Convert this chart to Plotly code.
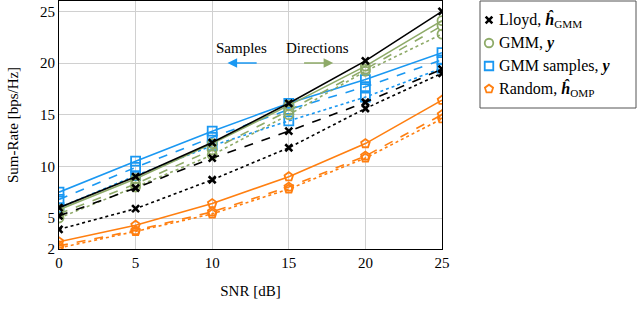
import plotly.graph_objects as go

snr = [0, 5, 10, 15, 20, 25]

lloyd_solid = [6.0, 9.0, 12.3, 16.1, 20.2, 25.0]
lloyd_dash = [5.2, 7.9, 10.8, 13.4, 16.2, 19.4]
lloyd_dot = [3.9, 5.9, 8.7, 11.8, 15.6, 19.0]

gmm_solid = [5.8, 8.8, 12.2, 15.9, 19.7, 24.1]
gmm_dash = [5.4, 8.3, 11.6, 15.4, 19.4, 23.6]
gmm_dot = [5.0, 8.0, 11.1, 15.0, 19.2, 22.8]

samp_solid = [7.5, 10.5, 13.4, 16.1, 18.4, 21.0]
samp_dash = [6.8, 9.9, 12.8, 15.5, 17.7, 20.3]
samp_dot = [6.0, 9.1, 12.0, 14.4, 16.7, 19.5]

rand_solid = [2.7, 4.3, 6.4, 9.0, 12.2, 16.4]
rand_dash = [2.3, 3.8, 5.6, 8.0, 11.0, 15.0]
rand_dot = [2.1, 3.7, 5.4, 7.8, 10.8, 14.6]

y_ticks = [2, 5, 10, 15, 20, 25]
x_ticks = [0, 5, 10, 15, 20, 25]

legend_names = [
    "Lloyd, <b><i>ĥ</i></b><sub>GMM</sub>",
    "GMM, <b><i>y</i></b>",
    "GMM samples, <b><i>y</i></b>",
    "Random, <b><i>ĥ</i></b><sub>OMP</sub>",
]

BLACK = "#000000"
GREEN = "#8EAA68"
BLUE = "#1A98F2"
ORANGE = "#FF7F10"
FONT = "Liberation Serif"

W, H = 640, 314
L, R, T, B = 59, 2, 1, 65
PW, PH = W - L - R, H - T - B
PLOT_RIGHT = 442  # right edge of the main axes box in pixels


def px_x(p):
    return (p - L) / PW


def px_y(p):
    return (H - B - p) / PH


fig = go.Figure()

groups = [
    (BLACK, "x-thin", [lloyd_solid, lloyd_dash, lloyd_dot]),
    (GREEN, "circle-open", [gmm_solid, gmm_dash, gmm_dot]),
    (BLUE, "square-open", [samp_solid, samp_dash, samp_dot]),
    (ORANGE, "pentagon-open", [rand_solid, rand_dash, rand_dot]),
]
dashes = ["solid", "dash", "dot"]


def mk(color, sym, scale=1.0):
    if sym == "x-thin":
        return dict(symbol=sym, size=7 * scale, color=color, line=dict(color=color, width=2.6))
    return dict(symbol=sym, size=9 * scale, color=color, line=dict(color=color, width=1.8))


for color, sym, series in reversed(groups):
    for vals, d in zip(series, dashes):
        fig.add_trace(go.Scatter(
            x=snr, y=vals, mode="lines+markers",
            line=dict(color=color, width=1.6, dash=d),
            marker=mk(color, sym),
            showlegend=False, hoverinfo="skip",
        ))

# manual legend: markers on a full-width pixel-coordinate subplot
leg_rows = [20, 43, 66, 89]
for (color, sym, _), row, name in zip(groups, leg_rows, legend_names):
    fig.add_trace(go.Scatter(
        x=[489], y=[row], xaxis="x2", yaxis="y2", mode="markers",
        marker=mk(color, sym, 0.95), cliponaxis=False, showlegend=False, hoverinfo="skip",
    ))
    fig.add_annotation(x=px_x(497), y=px_y(row), xref="paper", yref="paper",
                       text=name, showarrow=False, xanchor="left", yanchor="middle",
                       font=dict(family=FONT, size=16, color="black"))

fig.add_shape(type="rect", xref="paper", yref="paper",
              x0=px_x(480), x1=px_x(636), y0=px_y(108), y1=px_y(1),
              line=dict(color="#555555", width=1), fillcolor="rgba(0,0,0,0)")

# direction annotations
fig.add_annotation(x=11.9, y=21.45, text="Samples", showarrow=False,
                   font=dict(family=FONT, size=15, color="black"))
fig.add_annotation(x=16.9, y=21.45, text="Directions", showarrow=False,
                   font=dict(family=FONT, size=15, color="black"))
fig.add_annotation(x=11.0, y=20.0, ax=13.0, ay=20.0, xref="x", yref="y", axref="x", ayref="y",
                   text="", showarrow=True, arrowhead=2, arrowsize=1.2, arrowwidth=1.6,
                   arrowcolor=BLUE)
fig.add_annotation(x=17.9, y=20.0, ax=15.9, ay=20.0, xref="x", yref="y", axref="x", ayref="y",
                   text="", showarrow=True, arrowhead=2, arrowsize=1.2, arrowwidth=1.6,
                   arrowcolor=GREEN)

fig.update_layout(
    width=W, height=H,
    margin=dict(l=L, r=R, t=T, b=B, autoexpand=False),
    paper_bgcolor="white", plot_bgcolor="rgba(0,0,0,0)",
    font=dict(family=FONT, size=15, color="black"),
    showlegend=False,
    xaxis=dict(domain=[0, (PLOT_RIGHT - L) / PW], range=[0, 25], tickvals=x_ticks,
               showgrid=True, gridcolor="#D0D0D0",
               gridwidth=1, showline=True, linecolor="black", linewidth=1, mirror=True,
               zeroline=False, automargin=False,
               title=dict(text="SNR [dB]", standoff=15, font=dict(family=FONT, size=15)),
               tickfont=dict(family=FONT, size=15), ticks=""),
    yaxis=dict(range=[2, 26], tickvals=y_ticks, showgrid=True, gridcolor="#D0D0D0",
               gridwidth=1, showline=True, linecolor="black", linewidth=1, mirror=True,
               zeroline=False, automargin=False,
               title=dict(text="Sum-Rate [bps/Hz]", standoff=17, font=dict(family=FONT, size=15)),
               tickfont=dict(family=FONT, size=15), ticks=""),
    xaxis2=dict(domain=[0, 1], anchor="y2", range=[L, L + PW], visible=False,
                automargin=False, fixedrange=True),
    yaxis2=dict(domain=[0, 1], anchor="x2", range=[T + PH, T], visible=False,
                automargin=False, fixedrange=True),
)

fig.write_html("out.html", config={"displayModeBar": False},
               post_script="document.body.style.margin='0';")
